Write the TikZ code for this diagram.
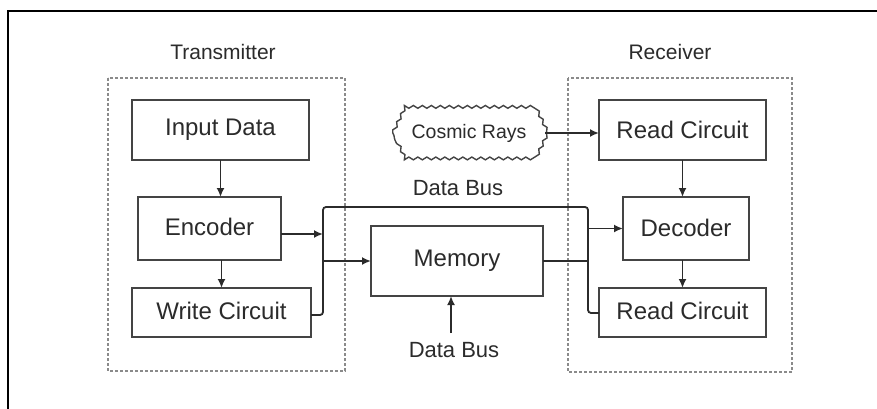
\documentclass[tikz,border=0pt]{standalone}
\usepackage{fontspec}
\setmainfont{Liberation Sans}
\usetikzlibrary{arrows.meta,decorations.pathmorphing,calc}
\definecolor{ink}{HTML}{2B2B2B}
\definecolor{boxline}{HTML}{444444}
\definecolor{dashline}{HTML}{8A8A8A}
\tikzset{
  blk/.style={draw=boxline, line width=1.9pt, fill=white, minimum width=#1, inner sep=0pt, outer sep=0pt, text=ink, font=\fontsize{24}{27}\selectfont},
  grp/.style={draw=dashline, line width=1.3pt, dash pattern=on 3pt off 2pt},
  lbl/.style={text=ink, inner sep=0pt, font=\fontsize{21}{24}\selectfont},
  conn/.style={draw=ink, line width=1.8pt},
  arr/.style={conn, -{Latex[length=9pt,width=8pt]}},
}
\begin{document}
\begin{tikzpicture}[x=1pt,y=-1pt]
\useasboundingbox (0,0) rectangle (877,409);
\fill[white] (0,0) rectangle (877,409);
% outer frame (top and left only visible)
\draw[line width=2pt,black] (8,409) -- (8,11) -- (877,11);
% groups
\draw[grp] (108,78) rectangle (345,371);
\draw[grp] (568,78) rectangle (792,372);
\node[lbl] (tx) at (223,52) {Transmitter};
\node[lbl] (rx) at (670,52) {Receiver};
% blocks
\node[blk=177pt, minimum height=60pt] (input) at (220.5,130) {Input Data};
\node[blk=143pt, minimum height=63pt] (enc) at (209.5,228.5) {\raisebox{4pt}{Encoder}};
\node[blk=179pt, minimum height=49pt] (write) at (221.5,312.5) {\raisebox{3pt}{Write Circuit}};
\node[blk=172pt, minimum height=70pt] (mem) at (457,261) {\raisebox{3pt}{Memory}};
\node[blk=167pt, minimum height=60pt] (read1) at (682.5,130) {Read Circuit};
\node[blk=126pt, minimum height=63pt] (dec) at (686,228.5) {\raisebox{2pt}{Decoder}};
\node[blk=167pt, minimum height=49pt] (read2) at (682.5,312.5) {\raisebox{3pt}{Read Circuit}};
% cosmic rays cloud
\node[text=ink, inner sep=0pt, minimum width=152pt, minimum height=50pt, font=\fontsize{19.5}{22}\selectfont] (cosmic) at (469,133) {Cosmic Rays};
\draw[draw=boxline, line width=1.4pt, decorate, decoration={snake, segment length=9pt, amplitude=1.4pt}]
  (cosmic.west) -- ([xshift=12pt]cosmic.north west) -- ([xshift=-12pt]cosmic.north east)
  -- (cosmic.east) -- ([xshift=-12pt]cosmic.south east) -- ([xshift=12pt]cosmic.south west) -- cycle;
% bus labels
\node[lbl, font=\fontsize{22}{25}\selectfont] (db1) at (458,188) {Data Bus};
\node[lbl, font=\fontsize{22}{25}\selectfont] (db2) at (454,350) {Data Bus};
% bus coordinates
\coordinate (busTL) at (323,207);
\coordinate (busTR) at (588,207);
\coordinate (busBL) at (323,315);
\coordinate (busBR) at (588,313);
\coordinate (encY) at (0,234);
\coordinate (dbtip) at (451,333);
% connectors
\draw[arr] (input.south) -- (input.south |- enc.north);
\draw[arr] (write.north |- enc.south) -- (write.north);
\draw[conn, rounded corners=3pt] (write.east |- busBL) -- (busBL) -- (busTL) -- (busTR) -- (busBR) -- (read2.west |- busBR);
\draw[arr] (enc.east |- encY) -- (busTL |- encY);
\draw[arr] (busTL |- mem.west) -- (mem.west);
\draw[conn] (mem.east) -- (mem.east -| busTR);
\draw[arr] (busTR |- dec.west) -- (dec.west);
\draw[arr] (cosmic.east) -- (read1.west |- cosmic.east);
\draw[arr] (dbtip) -- (dbtip |- mem.south);
\draw[arr] (read1.south) -- (read1.south |- dec.north);
\draw[arr] (read2.north |- dec.south) -- (read2.north);
\end{tikzpicture}
\end{document}
